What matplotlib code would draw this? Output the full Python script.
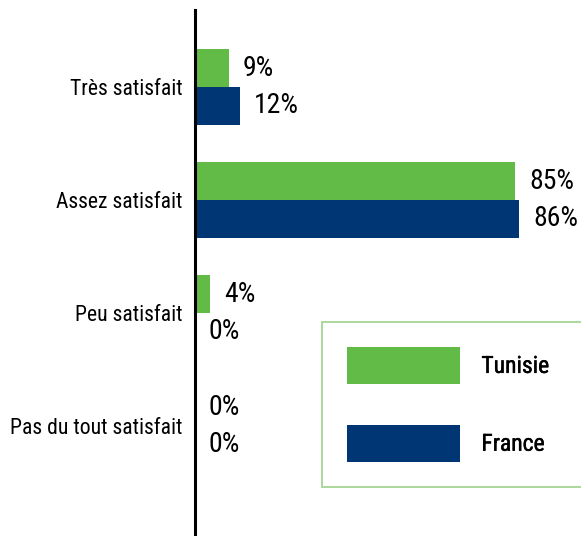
import matplotlib
matplotlib.use("Agg")
import matplotlib.pyplot as plt
import matplotlib.patheffects as pe
import numpy as np

plt.rcParams['font.family'] = ['Liberation Sans Narrow', 'Roboto Condensed', 'DejaVu Sans']

categories = ["Très satisfait", "Assez satisfait", "Peu satisfait", "Pas du tout satisfait"]
tunisie = [9, 85, 4, 0]
france = [12, 86, 0, 0]
series_names = ["Tunisie", "France"]
colors = ["#62BB46", "#003673"]

W, H = 581, 536
fig = plt.figure(figsize=(W / 100, H / 100), dpi=100)
ax = fig.add_axes([195 / W, 0, 1 - 195 / W, (536 - 10) / H])

y = np.arange(len(categories))
bh = 0.336
ax.barh(y - bh / 2, tunisie, height=bh, color=colors[0], label=series_names[0])
ax.barh(y + bh / 2, france, height=bh, color=colors[1], label=series_names[1])

for vals, off in ((tunisie, -bh / 2), (france, bh / 2)):
    for yi, v in zip(y, vals):
        ax.annotate(f"{v}%", (v, yi + off), xytext=(10, 0), textcoords="offset points",
                    ha="left", va="center", fontsize=20, color="black")

ax.set_xlim(0, 102.4)
ax.set_ylim(3 + 110 / 113, -77 / 113)
ax.set_yticks(y)
ax.set_yticklabels(categories, fontsize=15.6)
ax.tick_params(axis="y", length=0, pad=9)
ax.set_xticks([])
for s in ("top", "right", "bottom"):
    ax.spines[s].set_visible(False)
ax.spines["left"].set_linewidth(2.2)
ax.spines["left"].set_color("black")

leg = fig.legend(loc="upper left", bbox_to_anchor=(322 / W, 1 - 488 / H, 300 / W, 166 / H),
                 mode="expand", prop={"size": 17},
                 handlelength=4.8, handleheight=2.05,
                 labelspacing=1.72, borderpad=1.05, handletextpad=0.9,
                 frameon=True, fancybox=False, borderaxespad=0)
leg.get_frame().set_edgecolor("#8FCB7A")
leg.get_frame().set_linewidth(1.3)
for t in leg.get_texts():
    t.set_path_effects([pe.withStroke(linewidth=0.3, foreground="black")])

fig.savefig("out.png", dpi=100)
